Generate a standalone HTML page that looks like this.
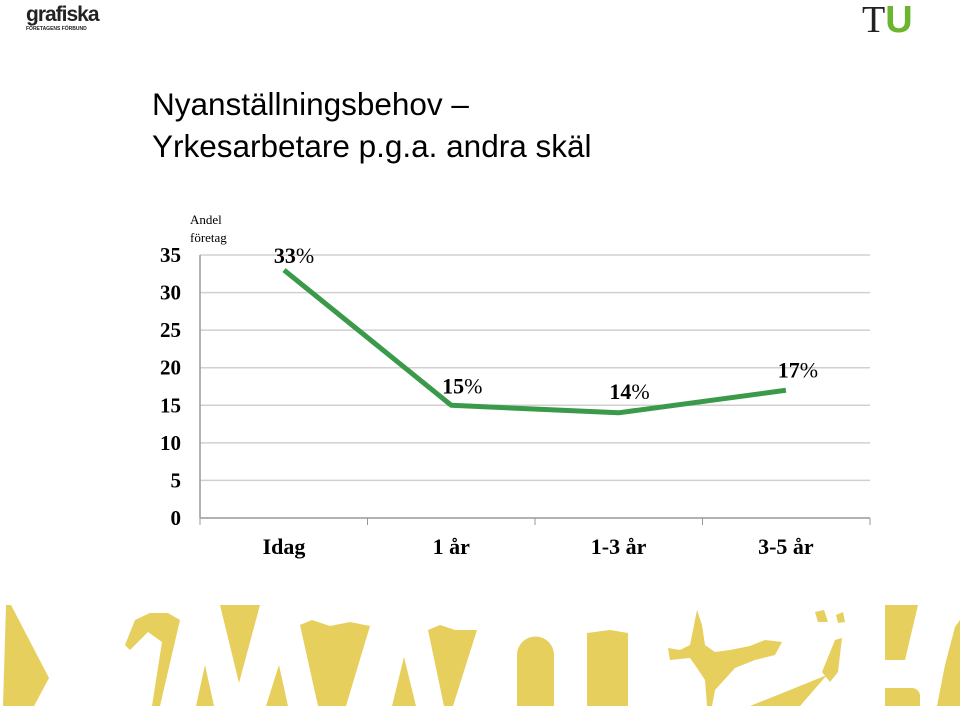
<!DOCTYPE html>
<html><head><meta charset="utf-8"><style>
body{margin:0;width:960px;height:706px;background:#fff;position:relative;overflow:hidden;font-family:"Liberation Sans",sans-serif}
.t{position:absolute;left:152px;top:83px;font-size:31.5px;line-height:42px;color:#000;white-space:nowrap}
</style></head><body>
<div style="position:absolute;left:26px;top:4px;font:bold 21px 'Liberation Sans Narrow','Liberation Sans',sans-serif;letter-spacing:-1px;color:#222;line-height:22px">grafiska<div style="font-size:5px;letter-spacing:0;line-height:6px">FÖRETAGENS FÖRBUND</div></div>
<div style="position:absolute;left:862px;top:-2px;font:38px 'Liberation Serif',serif;color:#222">T<span style="font:bold 38px 'Liberation Sans',sans-serif;color:#6cb52d">U</span></div>
<div class="t">Nyanställningsbehov –<br>Yrkesarbetare p.g.a. andra skäl</div>
<svg width="960" height="706" style="position:absolute;left:0;top:0" id="c">
<text x="190" y="224" font-family="Liberation Serif" font-size="13">Andel</text>
<text x="190" y="242" font-family="Liberation Serif" font-size="13">företag</text>
<g fill="#e6cf5c">
<polygon points="6,605 11,605 49,678 34,706 3,706"/>
<polygon points="125,645 135,620 150,613 168,613 180,620 160,706 152,706 162,642 148,632 130,650"/>
<polygon points="220,605 260,605 239,683"/>
<polygon points="205,665 196,706 214,706"/>
<polygon points="300,625 312,620 330,626 350,622 370,626 346,706 318,706"/>
<polygon points="279,665 266,706 288,706"/>
<polygon points="404,657 392,706 416,706"/>
<polygon points="428,630 440,625 455,630 477,630 453,706 444,706"/>
<path d="M517,706 V655 a18.5,18.5 0 0 1 37,0 V706Z"/>
<polygon points="587,633 610,630 628,633 628,706 587,706"/>
<polygon points="668,648 680,650 690,645 697,610 702,625 705,645 715,652 730,650 750,646 765,640 782,642 775,655 755,660 735,668 715,690 712,706 707,706 705,680 695,665 690,658 670,660"/>
<polygon points="750,706 790,690 827,675 800,706"/>
<polygon points="815,612 824,610 828,622 818,622"/>
<polygon points="836,615 843,612 845,622 838,623"/>
<polygon points="835,640 842,638 838,672 830,682 822,672"/>
<polygon points="885,605 918,605 905,660 885,660"/>
<path d="M885,688 H912 a8,8 0 0 1 8,8 V706 H885 Z"/>
<polygon points="955,627 960,620 960,706 937,706 945,665"/>
</g>
</svg>
<script>
const categories=["Idag","1 år","1-3 år","3-5 år"];
const values=[33,15,14,17];
const yTicks=[0,5,10,15,20,25,30,35];
const svg=document.getElementById('c'),NS='http://www.w3.org/2000/svg';
const y=v=>518-v*(263/35), x=i=>284+i*167.3;
function mk(t,a,p){const e=document.createElementNS(NS,t);for(const k in a)e.setAttribute(k,a[k]);(p||svg).appendChild(e);return e;}
yTicks.forEach(v=>{
 const l=mk('line',{x1:200,x2:870,y1:y(v),y2:y(v),stroke:v?'#d0d0d0':'#999','stroke-width':1.5});
 
 
 const t=mk('text',{x:181,y:y(v)+7,'text-anchor':'end','font-family':'Liberation Serif','font-weight':'bold','font-size':21});
 t.textContent=v;
 
 
});
const ax=mk('line',{x1:200,x2:200,y1:255,y2:518,stroke:'#999','stroke-width':1.5});


for(let i=0;i<=4;i++){const tk=mk('line',{x1:200+i*167.5,x2:200+i*167.5,y1:518,y2:525,stroke:'#999'});
 
 }
categories.forEach((c,i)=>{const t=mk('text',{x:x(i),y:554,'text-anchor':'middle','font-family':'Liberation Serif','font-weight':'bold','font-size':22});
 t.textContent=c;
 
 });
const ln=mk('polyline',{points:values.map((v,i)=>x(i)+','+y(v)).join(' '),fill:'none',stroke:'#3a9a4a','stroke-width':5,'stroke-linejoin':'round'});


const off=[[10,-7],[11,-12],[11,-14],[12,-13]];
values.forEach((v,i)=>{const t=mk('text',{x:x(i)+off[i][0],y:y(v)+off[i][1],'text-anchor':'middle','font-family':'Liberation Serif','font-size':22});
 t.innerHTML='<tspan font-weight="bold">'+v+'</tspan>%';
 
 });
</script>
</body></html>
